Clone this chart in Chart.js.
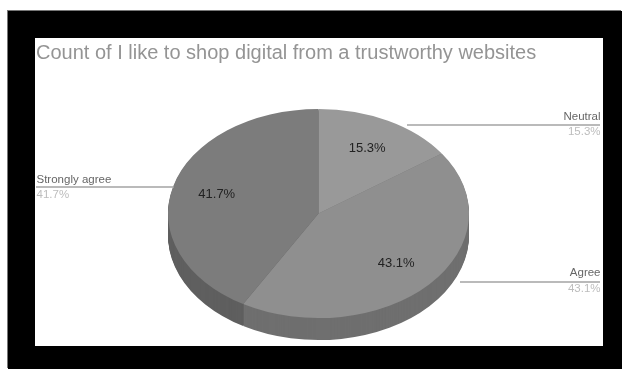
<!DOCTYPE html>
<html>
<head>
<meta charset="utf-8">
<style>
  html, body { margin: 0; padding: 0; background: #fff; overflow: hidden; }
  #frame { position: absolute; left: 8px; top: 11px; width: 614px; height: 358px; background: #000; box-shadow: -1px -1px 0 #777; }
  #panel { position: absolute; left: 35px; top: 38px; width: 568px; height: 308px; background: #fff; }
  #wrap { position: absolute; left: 0; top: 0; width: 622px; height: 369px; }
</style>
<script src="https://cdn.jsdelivr.net/npm/chart.js@4/dist/chart.umd.min.js"></script>
</head>
<body>
<div id="frame"></div>
<div id="panel"></div>
<div id="wrap"><canvas id="chart" width="622" height="369"></canvas></div>
<script>
const chartTitle = 'Count of I like to shop digital from a trustworthy websites';
const categories = ['Neutral', 'Agree', 'Strongly agree'];
const shares = [15.3, 43.1, 41.7];
const topColors = ['#999999', '#8f8f8f', '#7c7c7c'];
const sideColors = ['#757575', '#6f6f6f', '#5f5f5f'];

const TILT = 0.695;     // vertical squash that turns the disc into an ellipse
const DEPTH = 22;       // thickness of the disc edge, in screen pixels
const LABEL_RADIUS = 0.7;

// Callout layout for each category: leader line and text anchor.
const callouts = [
  { x1: 407, x2: 600, y: 125, align: 'right', tx: 600.5, nameY: 117, valueY: 132 },
  { x1: 460, x2: 600, y: 282, align: 'right', tx: 600.5, nameY: 273, valueY: 289 },
  { x1: 36,  x2: 174, y: 187, align: 'left',  tx: 36.5,  nameY: 180, valueY: 195 }
];

const tiltedDisc = {
  id: 'tiltedDisc',
  beforeDatasetsDraw(chart) {
    const { ctx } = chart;
    const arcs = chart.getDatasetMeta(0).data;
    const cy = arcs[0].y;
    ctx.save();
    ctx.translate(0, cy);
    ctx.scale(1, TILT);
    ctx.translate(0, -cy);
    // Stack darker copies of the slices downward to form the rim.
    for (let d = DEPTH; d >= 1; d--) {
      ctx.save();
      ctx.translate(0, d / TILT);
      arcs.forEach((arc, i) => {
        const fill = arc.options.backgroundColor;
        arc.options.backgroundColor = sideColors[i];
        arc.draw(ctx);
        arc.options.backgroundColor = fill;
      });
      ctx.restore();
    }
  },
  afterDatasetsDraw(chart) {
    chart.ctx.restore();
  }
};

const annotations = {
  id: 'annotations',
  afterDraw(chart) {
    const { ctx } = chart;
    const arcs = chart.getDatasetMeta(0).data;
    const cy = arcs[0].y;
    ctx.save();
    ctx.textBaseline = 'middle';

    ctx.font = '20px "Liberation Sans"';
    ctx.fillStyle = '#949494';
    ctx.textAlign = 'left';
    ctx.fillText(chartTitle, 36, 53);

    callouts.forEach((c, i) => {
      ctx.strokeStyle = '#a3a3a3';
      ctx.lineWidth = 1.5;
      ctx.beginPath();
      ctx.moveTo(c.x1, c.y);
      ctx.lineTo(c.x2, c.y);
      ctx.stroke();

      ctx.textAlign = c.align;
      ctx.font = '11.5px "Liberation Sans"';
      ctx.fillStyle = '#666';
      ctx.fillText(categories[i], c.tx, c.nameY);
      ctx.fillStyle = '#bdbdbd';
      ctx.fillText(shares[i].toFixed(1) + '%', c.tx, c.valueY);

      // Percentage on the slice, placed along its mid-angle.
      const arc = arcs[i];
      const mid = (arc.startAngle + arc.endAngle) / 2;
      const r = arc.outerRadius * LABEL_RADIUS;
      ctx.textAlign = 'center';
      ctx.font = '13px "Liberation Sans"';
      ctx.fillStyle = '#222';
      ctx.fillText(shares[i].toFixed(1) + '%',
        arc.x + Math.cos(mid) * r,
        cy + Math.sin(mid) * r * TILT);
    });
    ctx.restore();
  }
};

new Chart(document.getElementById('chart'), {
  type: 'pie',
  data: {
    labels: categories,
    datasets: [{ data: shares, backgroundColor: topColors, borderWidth: 0 }]
  },
  options: {
    responsive: false,
    animation: false,
    layout: { padding: { left: 168, right: 153, top: 63, bottom: 5 } },
    plugins: { legend: { display: false }, tooltip: { enabled: false }, title: { display: false } }
  },
  plugins: [tiltedDisc, annotations]
});
</script>
</body>
</html>
